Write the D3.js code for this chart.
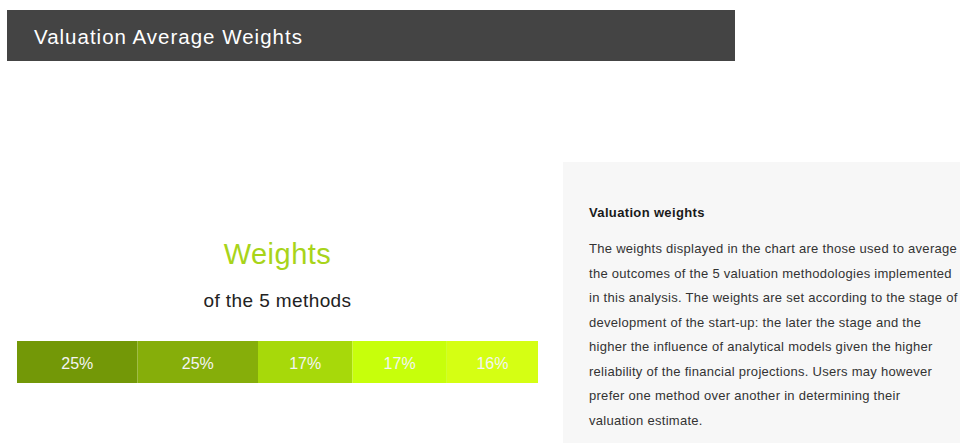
<!DOCTYPE html>
<html>
<head>
<meta charset="utf-8">
<script src="https://cdn.jsdelivr.net/npm/d3@7"></script>
<style>
  html, body { margin: 0; padding: 0; background: #fff; }
  svg { display: block; font-family: "Liberation Sans", Arial, sans-serif; }
</style>
</head>
<body>
<div id="chart"></div>
<script>
// weights of the 5 valuation methods (%)
const methods = ["Method 1", "Method 2", "Method 3", "Method 4", "Method 5"];
const weights = [25, 25, 17, 17, 16];
const segColors = ["#739807", "#86ae0a", "#a7d90a", "#c7ff0b", "#d5ff13"];

const pageTitle = "Valuation Average Weights";
const chartTitle = "Weights";
const chartSubtitle = "of the 5 methods";
const noteTitle = "Valuation weights";
const noteLines = [
    "The weights displayed in the chart are those used to average",
    "the outcomes of the 5 valuation methodologies implemented",
    "in this analysis. The weights are set according to the stage of",
    "development of the start-up: the later the stage and the",
    "higher the influence of analytical models given the higher",
    "reliability of the financial projections. Users may however",
    "prefer one method over another in determining their",
    "valuation estimate."
];

const W = 960, H = 443;

const svg = d3.select("#chart")
    .append("svg")
    .attr("width", W)
    .attr("height", H);

// header bar
svg.append("rect")
    .attr("x", 7).attr("y", 10)
    .attr("width", 728).attr("height", 51)
    .attr("fill", "#444444");

svg.append("text")
    .attr("x", 34).attr("y", 44)
    .attr("fill", "#ffffff")
    .attr("font-size", "20.5px")
    .attr("letter-spacing", "1px")
    .text(pageTitle);

// right note panel
svg.append("rect")
    .attr("x", 563).attr("y", 162)
    .attr("width", W - 563).attr("height", H - 162)
    .attr("fill", "#f7f7f7");

svg.append("text")
    .attr("x", 589).attr("y", 217)
    .attr("fill", "#1a1a1a")
    .attr("font-size", "13px")
    .attr("font-weight", "bold")
    .attr("letter-spacing", "0.35px")
    .text(noteTitle);

svg.append("g")
    .selectAll("text")
    .data(noteLines)
    .enter()
    .append("text")
    .attr("x", 589)
    .attr("y", (d, i) => 253 + i * 24.5)
    .attr("fill", "#333333")
    .attr("font-size", "13px")
    .attr("letter-spacing", "0.28px")
    .text(d => d);

// chart titles
const cx = 277.5;

svg.append("text")
    .attr("x", cx).attr("y", 264)
    .attr("text-anchor", "middle")
    .attr("fill", "#a8d41a")
    .attr("font-size", "29px")
    .attr("letter-spacing", "0.5px")
    .text(chartTitle);

svg.append("text")
    .attr("x", cx).attr("y", 307)
    .attr("text-anchor", "middle")
    .attr("fill", "#222222")
    .attr("font-size", "19px")
    .attr("letter-spacing", "0.4px")
    .text(chartSubtitle);

// stacked weight bar
const bar = { left: 17, top: 341, width: 521, height: 42 };
const base = 39; // minimum width each segment gets

const x = d3.scaleLinear()
    .domain([0, d3.sum(weights)])
    .range([0, bar.width - base * weights.length]);

let acc = 0;
const segs = weights.map((w, i) => {
    const x0 = bar.left + i * base + x(acc);
    acc += w;
    const x1 = bar.left + (i + 1) * base + x(acc);
    return { name: methods[i], value: w, x0, x1, color: segColors[i] };
});

const g = svg.append("g");

g.selectAll("rect")
    .data(segs)
    .enter()
    .append("rect")
    .attr("x", d => d.x0)
    .attr("y", bar.top)
    .attr("width", d => d.x1 - d.x0)
    .attr("height", bar.height)
    .attr("fill", d => d.color);

g.selectAll("text")
    .data(segs)
    .enter()
    .append("text")
    .attr("x", d => (d.x0 + d.x1) / 2)
    .attr("y", bar.top + 28)
    .attr("text-anchor", "middle")
    .attr("fill", "#f4f4f4")
    .attr("font-size", "16px")
    .text(d => d.value + "%");
</script>
</body>
</html>
